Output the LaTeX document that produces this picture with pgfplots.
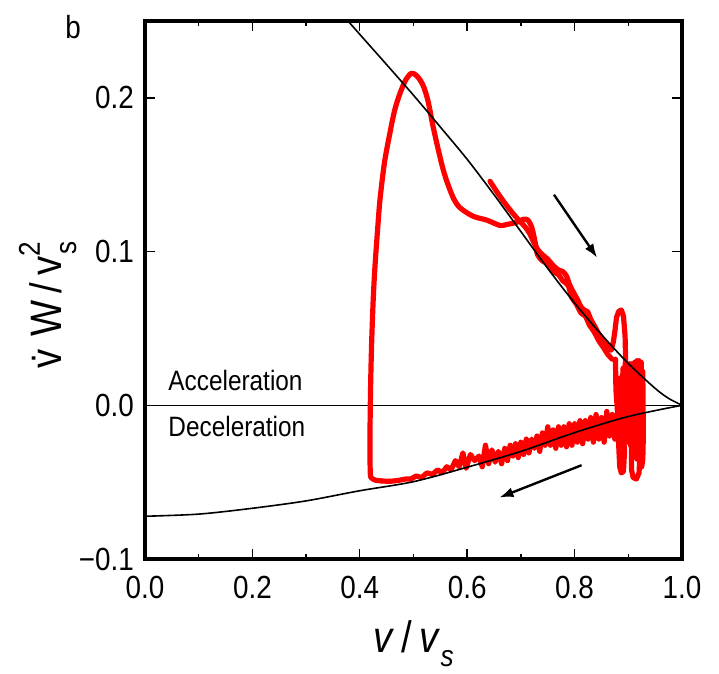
\documentclass[border=0pt]{standalone}
\usepackage{fontspec}
\setmainfont[FakeStretch=0.87]{Liberation Sans}
\usepackage{pgfplots}
\pgfplotsset{compat=1.18}
\usetikzlibrary{arrows.meta}
\newcommand\subs[1]{\raisebox{-0.32em}{\fontsize{15}{15}\selectfont #1}}
\newcommand\sups[1]{\raisebox{0.5em}{\fontsize{15}{15}\selectfont #1}}

\begin{document}
\begin{tikzpicture}
\begin{axis}[
  scale only axis,
  width=268.5pt, height=269pt,
  xmin=0, xmax=1, ymin=-0.1, ymax=0.25,
  xtick={0,0.2,0.4,0.6,0.8,1.0},
  xticklabels={0.0,0.2,0.4,0.6,0.8,1.0},
  minor xtick={0.1,0.3,0.5,0.7,0.9},
  ytick={-0.1,0,0.1,0.2},
  yticklabels={−0.1,0.0,0.1,0.2},
  tick align=inside,
  major tick length=5pt,
  minor tick length=2.5pt,
  tick style={black, line width=0.7pt},
  axis line style={line width=2.2pt, line cap=rect},
  ticklabel style={font=\fontsize{16}{18}\selectfont},
  xticklabel shift=5pt,
  yticklabel shift=2pt,
  xlabel={\textit{v}\,/\,\textit{v}\subs{\textit{s}}},
  ylabel={\.{v}\;W\,/\,v\sups{2}\llap{\subs{s}}},
  label style={font=\fontsize{22}{24}\selectfont},
  xlabel style={at={(rel axis cs:0.5,-0.1729)}, anchor=base},
  ylabel style={at={(rel axis cs:-0.1546,0.472)}, anchor=base},
  clip=false,
]
% zero line
\addplot[black, line width=0.6pt] coordinates {(0,0) (1,0)};

% red trajectory: start segment along upper curve
\addplot[red, line width=2.6pt, smooth, tension=0.5, line join=round, line cap=round] coordinates {
(0.6425,0.1457) (0.655,0.139) (0.667,0.133) (0.680,0.127) (0.692,0.122)
(0.700,0.119) (0.708,0.116) (0.716,0.112) (0.724,0.106) (0.732,0.101)
(0.740,0.098) (0.750,0.095) (0.760,0.091) (0.770,0.088) (0.778,0.087)
(0.785,0.084) (0.790,0.079) (0.797,0.074) (0.805,0.069) (0.812,0.064)
(0.818,0.062) (0.824,0.061) (0.830,0.056) (0.838,0.051) (0.846,0.046)
(0.855,0.042) (0.862,0.038) (0.868,0.036)
};
% oscillations near v/vs = 0.9 and return along lower curve
\addplot[red, line width=2.6pt, line join=round, line cap=round] coordinates {
(0.868,0.036) (0.872,0.041) (0.875,0.048) (0.878,0.057) (0.882,0.061)
(0.887,0.062) (0.891,0.058) (0.894,0.045) (0.895,0.030) (0.893,0.020)
(0.888,0.017) (0.882,0.015) (0.877,0.012) (0.876,0.030) (0.877,0.010)
(0.880,-0.005) (0.882,-0.025) (0.884,-0.040) (0.887,-0.044) (0.891,-0.043)
(0.893,-0.030) (0.889,-0.010) (0.886,0.018) (0.888,-0.020) (0.890,0.024)
(0.892,-0.022) (0.894,0.026) (0.896,-0.024) (0.898,0.026) (0.900,-0.024)
(0.902,0.027) (0.904,-0.026) (0.906,0.027) (0.906,-0.042) (0.909,-0.047)
(0.915,-0.048) (0.920,-0.044) (0.922,-0.030) (0.919,-0.010) (0.916,-0.035)
(0.913,-0.025) (0.908,0.027) (0.910,-0.024) (0.912,0.028) (0.914,-0.022)
(0.916,0.029) (0.918,-0.020) (0.920,0.029) (0.922,-0.018) (0.924,0.028)
(0.926,-0.015) (0.927,0.022) (0.928,-0.020) (0.927,-0.035) (0.925,-0.040)
(0.926,-0.005) (0.920,0.005) (0.912,-0.010) (0.905,-0.005) (0.900,-0.004)
(0.895,-0.020) (0.890,-0.006) (0.885,-0.024) (0.880,-0.004) (0.875,-0.022)
(0.870,-0.006) (0.865,-0.020) (0.860,-0.004) (0.855,-0.024) (0.850,-0.008)
(0.845,-0.022) (0.840,-0.006) (0.835,-0.024) (0.830,-0.008) (0.825,-0.022)
(0.820,-0.010) (0.815,-0.025) (0.810,-0.010) (0.805,-0.024) (0.800,-0.012)
(0.795,-0.026) (0.790,-0.012) (0.785,-0.027) (0.780,-0.014) (0.775,-0.026)
(0.770,-0.014) (0.765,-0.028) (0.760,-0.016) (0.755,-0.026) (0.750,-0.014)
(0.745,-0.026) (0.740,-0.018) (0.735,-0.030) (0.730,-0.020) (0.725,-0.028)
(0.720,-0.022) (0.715,-0.031) (0.710,-0.022) (0.705,-0.032) (0.700,-0.024)
(0.695,-0.034) (0.690,-0.025) (0.685,-0.033) (0.680,-0.026) (0.675,-0.036)
(0.670,-0.028) (0.664,-0.038) (0.658,-0.030) (0.652,-0.037) (0.646,-0.029)
(0.640,-0.038) (0.634,-0.026) (0.628,-0.040) (0.622,-0.033) (0.614,-0.036)
(0.606,-0.032) (0.598,-0.041) (0.592,-0.031) (0.585,-0.040) (0.578,-0.036)
(0.570,-0.042) (0.562,-0.040) (0.553,-0.044) (0.545,-0.042) (0.535,-0.045)
(0.525,-0.044) (0.515,-0.047) (0.505,-0.046) (0.495,-0.048) (0.485,-0.048)
(0.470,-0.049) (0.455,-0.0495) (0.440,-0.0492)
};
% left rise, peak and descent back to upper curve
\addplot[red, line width=2.6pt, smooth, tension=0.5, line join=round, line cap=round] coordinates {
(0.440,-0.0492) (0.430,-0.0488) (0.4225,-0.0475) (0.4195,-0.0440)
(0.419,-0.020) (0.420,0.010) (0.422,0.040) (0.425,0.069) (0.4283,0.0906)
(0.4327,0.1122) (0.4376,0.1338) (0.446,0.158) (0.456,0.177) (0.465,0.192)
(0.4749,0.203) (0.486,0.212) (0.4966,0.216) (0.507,0.214) (0.518,0.208)
(0.527,0.198) (0.5355,0.183) (0.545,0.168) (0.554,0.155) (0.5618,0.146)
(0.574,0.135) (0.5866,0.1285) (0.611,0.123) (0.636,0.1205) (0.661,0.117)
(0.6735,0.1176) (0.692,0.119) (0.7045,0.121) (0.713,0.1205) (0.720,0.116)
(0.726,0.107) (0.731,0.098) (0.740,0.094) (0.750,0.092)
(0.760,0.087) (0.770,0.085) (0.778,0.081) (0.788,0.078) (0.795,0.070)
(0.803,0.066) (0.812,0.060) (0.820,0.058) (0.828,0.052) (0.836,0.048)
(0.845,0.042) (0.853,0.038) (0.862,0.033) (0.870,0.030)
};

% upper model curve
\addplot[black, line width=0.8pt, smooth] coordinates {
(0.378,0.25) (0.40,0.2413) (0.45,0.2216) (0.50,0.2017) (0.55,0.181)
(0.60,0.160) (0.65,0.137) (0.70,0.113) (0.75,0.089) (0.80,0.0665)
(0.85,0.046) (0.90,0.0272) (0.95,0.011) (0.975,0.0045) (1.00,0.0)
};
% lower model curve
\addplot[black, line width=0.8pt, smooth] coordinates {
(0,-0.0722) (0.1,-0.0708) (0.2,-0.0670) (0.3,-0.0622) (0.4,-0.0556)
(0.5,-0.0497) (0.6,-0.0403) (0.7,-0.0300) (0.8,-0.0178) (0.9,-0.0073)
(1.0,0.0)
};

% direction arrows
\addplot[black, line width=1.2pt, -{Latex[length=7pt,width=5pt]}] coordinates {(0.7616,0.137) (0.842,0.096)};
\addplot[black, line width=1.2pt, -{Latex[length=7pt,width=5pt]}] coordinates {(0.813,-0.039) (0.660,-0.0600)};

\node[anchor=base west, inner sep=0pt, font=\fontsize{14}{16}\selectfont] at (axis cs:0.043,0.0096) {Acceleration};
\node[anchor=base west, inner sep=0pt, font=\fontsize{14}{16}\selectfont] at (axis cs:0.043,-0.0206) {Deceleration};
\node[anchor=base west, inner sep=0pt, font=\fontsize{16}{18}\selectfont] at (rel axis cs:-0.149,0.968) {b};
\end{axis}
\path ([xshift=-72.5pt,yshift=-54pt]current axis.south west) rectangle ([xshift=287pt,yshift=279.5pt]current axis.south west);
\end{tikzpicture}
\end{document}
